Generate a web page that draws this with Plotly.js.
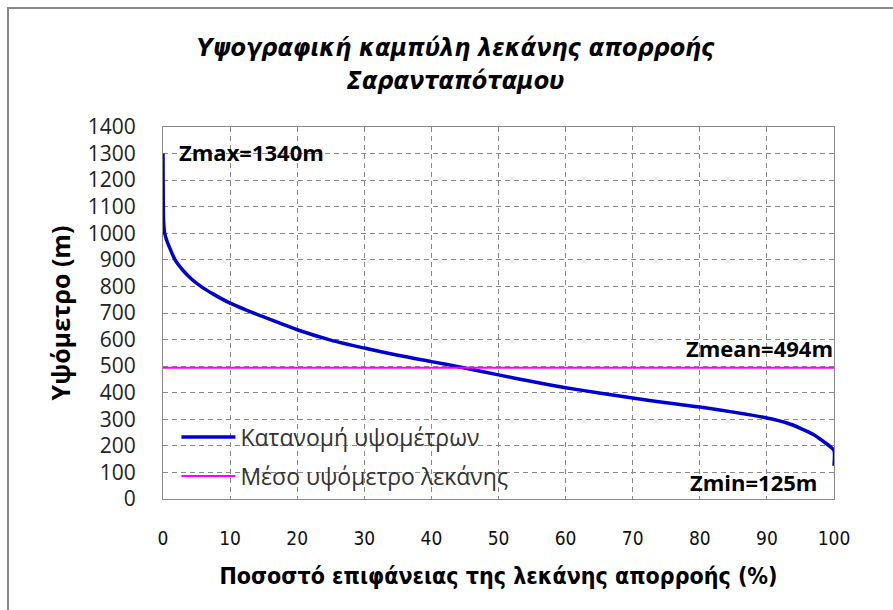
<!DOCTYPE html>
<html>
<head>
<meta charset="utf-8">
<script src="https://cdn.plot.ly/plotly-3.0.1.min.js"></script>
<style>
  html, body { margin: 0; padding: 0; background: #fff; }
  #wrap { position: relative; width: 893px; height: 610px; overflow: hidden; }
  #chart { position: absolute; left: 0; top: 0; width: 893px; height: 610px; }
  #frame { position: absolute; left: 7px; top: 7px; width: 900px; height: 620px;
           border-left: 2px solid #888; border-top: 2px solid #888; pointer-events: none; }
</style>
</head>
<body>
<div id="wrap">
  <div id="chart"></div>
  <div id="frame"></div>
</div>
<script>
// Hypsometric curve data (percentage of basin area vs elevation)
const areaPct = [0, 0.02, 0.05, 0.1, 0.25, 0.6, 1.0, 1.8, 3, 4.2, 5.7, 7.5, 10, 12.5, 15, 17.5, 20, 25, 30, 35, 40, 44.2, 50, 55, 60, 65, 70, 75, 80, 85, 90, 93, 95, 97, 98.5, 99.5, 100, 100];
const elevation = [1300, 1200, 1100, 1040, 1000, 970, 945, 900, 860, 829, 799, 771, 737, 710, 685, 661, 637, 598, 568, 541, 517, 497, 467, 442, 419, 399, 380, 362, 346, 327, 305, 286, 266, 242, 215, 196, 182, 125];
const meanX = [0, 100];
const meanElev = [494, 494];

const seriesNames = ["Κατανομή υψομέτρων", "Μέσο υψόμετρο λεκάνης"];
const titleText = "Υψογραφική καμπύλη λεκάνης απορροής<br>Σαρανταπόταμου";
const xTitle = "Ποσοστό επιφάνειας της λεκάνης απορροής (%)";
const yTitle = "Υψόμετρο (m)";
const labels = ["Zmax=1340m", "Zmean=494m", "Zmin=125m"];

const narrow = '"Liberation Sans Narrow", "DejaVu Sans Condensed", "Liberation Sans", sans-serif';
const sans = '"Open Sans", "Liberation Sans", sans-serif';

const traces = [
  { x: areaPct, y: elevation, mode: 'lines', name: seriesNames[0], legend: 'legend',
    line: { color: '#0000CC', width: 3.5, shape: 'spline', smoothing: 0.8 } },
  { x: meanX, y: meanElev, mode: 'lines', name: seriesNames[1], legend: 'legend2',
    line: { color: '#FF00FF', width: 2 } }
];

const legendCommon = {
  xanchor: 'left', yanchor: 'middle',
  bgcolor: 'rgba(0,0,0,0)', borderwidth: 0,
  font: { family: sans, size: 23, color: '#333' },
  itemwidth: 54
};

const layout = {
  width: 893, height: 610,
  margin: { l: 163, r: 59, t: 127, b: 111 },
  paper_bgcolor: '#fff', plot_bgcolor: '#fff',
  showlegend: true,
  title: { text: titleText, x: 0.51, xanchor: 'center', y: 0.908, yanchor: 'top',
           font: { family: narrow, size: 25, color: '#000', weight: 'bold', style: 'italic' } },
  xaxis: {
    range: [0, 100], dtick: 10, tick0: 0,
    showgrid: true, gridcolor: '#8a8a8a', gridwidth: 1, griddash: '5px,4px',
    showline: true, linecolor: '#8a8a8a', linewidth: 1, mirror: true,
    zeroline: false, ticks: '', ticklabelstandoff: 22,
    tickfont: { family: narrow, size: 19, color: '#111' },
    title: { text: xTitle, standoff: 20,
             font: { family: narrow, size: 23, color: '#000', weight: 'bold' } }
  },
  yaxis: {
    range: [0, 1400], dtick: 100, tick0: 0,
    showgrid: true, gridcolor: '#8a8a8a', gridwidth: 1, griddash: '5px,4px',
    showline: true, linecolor: '#8a8a8a', linewidth: 1, mirror: true,
    zeroline: false, ticks: '', ticklabelstandoff: 22,
    tickfont: { family: sans, size: 21, color: '#222' },
    title: { text: yTitle, standoff: 10,
             font: { family: sans, size: 25, color: '#000', weight: 'bold' } }
  },
  legend: Object.assign({ x: 0.02, y: 0.1667 }, legendCommon),
  legend2: Object.assign({ x: 0.02, y: 0.062 }, legendCommon),
  annotations: [
    { x: 0, y: 1300, xref: 'x', yref: 'y', text: '<b>' + labels[0] + '</b>', showarrow: false,
      xanchor: 'left', yanchor: 'middle', xshift: 14, yshift: 2,
      font: { family: sans, size: 22, color: '#000' } },
    { x: 100, y: 494, xref: 'x', yref: 'y', text: '<b>' + labels[1] + '</b>', showarrow: false,
      xanchor: 'right', yanchor: 'bottom', xshift: 1, yshift: 3,
      font: { family: sans, size: 22, color: '#000' } },
    { x: 98, y: 0, xref: 'x', yref: 'y', text: '<b>' + labels[2] + '</b>', showarrow: false,
      xanchor: 'right', yanchor: 'bottom', xshift: -2, yshift: 0,
      font: { family: sans, size: 22, color: '#000' } }
  ]
};

Plotly.newPlot('chart', traces, layout, { displayModeBar: false, staticPlot: true });
</script>
</body>
</html>
